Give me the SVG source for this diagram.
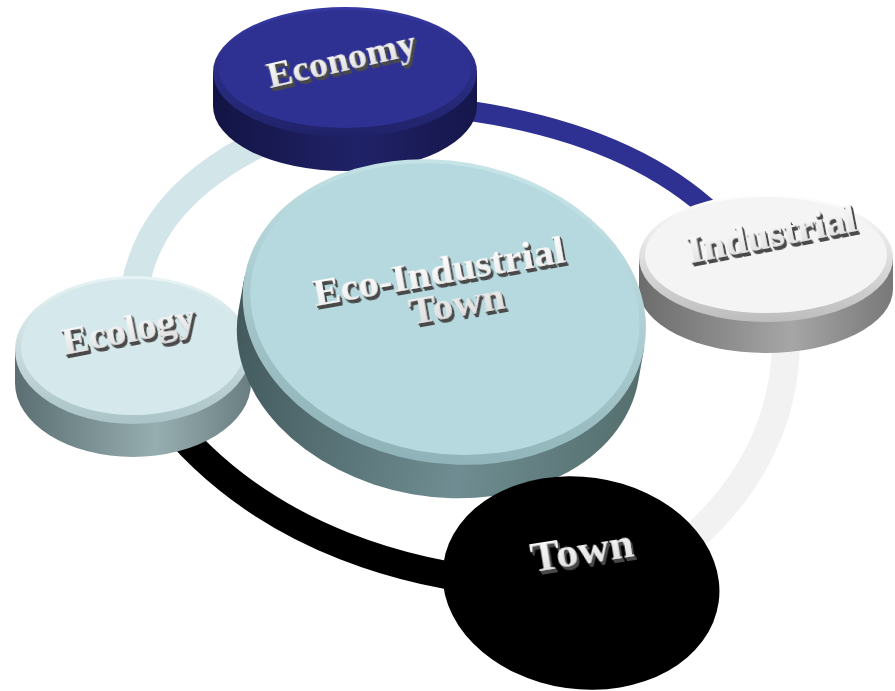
<svg xmlns="http://www.w3.org/2000/svg" width="895" height="691" viewBox="0 0 895 691">
<defs>
<style>
.ring{fill:none;stroke-linecap:butt}
.lbl{font-family:"Liberation Serif","Times New Roman",serif;font-weight:bold;fill:url(#txt);text-anchor:middle;filter:url(#ext)}
</style>
<linearGradient id="txt" x1="0" y1="0" x2="0" y2="1"><stop offset="0" stop-color="#ffffff"/><stop offset="1" stop-color="#dcdcdc"/></linearGradient>
<filter id="ext" x="-10%" y="-30%" width="130%" height="170%">
<feOffset in="SourceAlpha" dx="0.6" dy="1.2" result="o1"/>
<feOffset in="SourceAlpha" dx="1.2" dy="2.4" result="o2"/>
<feOffset in="SourceAlpha" dx="1.8" dy="3.6" result="o3"/>
<feOffset in="SourceAlpha" dx="2.4" dy="4.6" result="o4"/>
<feMerge result="m"><feMergeNode in="o1"/><feMergeNode in="o2"/><feMergeNode in="o3"/><feMergeNode in="o4"/></feMerge>
<feFlood flood-color="#4a4a4a"/>
<feComposite in2="m" operator="in" result="sh"/>
<feMerge><feMergeNode in="sh"/><feMergeNode in="SourceGraphic"/></feMerge>
</filter>
<linearGradient id="econBev" x1="0" y1="0" x2="0" y2="1"><stop offset="0" stop-color="#3639a2"/><stop offset="1" stop-color="#202268"/></linearGradient>
<linearGradient id="econSide" x1="0" y1="0" x2="1" y2="0"><stop offset="0" stop-color="#131444"/><stop offset="0.55" stop-color="#202268"/><stop offset="1" stop-color="#15164a"/></linearGradient>
<linearGradient id="cenBev" x1="0" y1="0" x2="0" y2="1"><stop offset="0" stop-color="#c6e4e8"/><stop offset="1" stop-color="#8fb3b8"/></linearGradient>
<linearGradient id="cenSide" x1="0" y1="0" x2="1" y2="0"><stop offset="0" stop-color="#435a5d"/><stop offset="0.6" stop-color="#6f8d92"/><stop offset="1" stop-color="#56706f"/></linearGradient>
<linearGradient id="ecoBev" x1="0" y1="0" x2="0" y2="1"><stop offset="0" stop-color="#e8f4f6"/><stop offset="1" stop-color="#aac3c6"/></linearGradient>
<linearGradient id="ecoSide" x1="0" y1="0" x2="1" y2="0"><stop offset="0" stop-color="#5b6f72"/><stop offset="0.6" stop-color="#97aeb1"/><stop offset="1" stop-color="#6a7e81"/></linearGradient>
<linearGradient id="indBev" x1="0" y1="0" x2="0" y2="1"><stop offset="0" stop-color="#ffffff"/><stop offset="1" stop-color="#bdbdbd"/></linearGradient>
<linearGradient id="indSide" x1="0" y1="0" x2="1" y2="0"><stop offset="0" stop-color="#6c6c6c"/><stop offset="0.6" stop-color="#a6a6a6"/><stop offset="1" stop-color="#787878"/></linearGradient>
</defs>
<rect width="895" height="691" fill="#ffffff"/>

<g id="connectors">
<path class="ring" d="M 135 360 C 118 250, 170 170, 320 118" stroke="#d2e6ea" stroke-width="28"/>
<path class="ring" d="M 430 106 Q 620 125 715 215" stroke="#2e3192" stroke-width="20"/>
<path class="ring" d="M 780 280 C 800 380, 770 470, 690 540" stroke="#f2f2f2" stroke-width="28"/>
<path class="ring" d="M 560 585 C 420 585, 260 540, 160 410" stroke="#000000" stroke-width="28"/>
</g>

<g id="node-economy">
<path d="M 213 72 L 213 106 A 132 65 0 0 0 477 106 L 477 72 Z" fill="url(#econSide)"/>
<ellipse cx="345" cy="72" rx="132" ry="65" fill="url(#econBev)"/>
<ellipse cx="345" cy="69" rx="126" ry="59" fill="#2e3192"/>
<text class="lbl" font-size="38" transform="translate(344,71) rotate(-13) scale(1,0.95)">Economy</text>
</g>

<g id="node-industrial">
<path d="M 639 258 L 639 289 A 127 64 0 0 0 893 289 L 893 258 Z" fill="url(#indSide)"/>
<ellipse cx="766" cy="258" rx="127" ry="64" fill="url(#indBev)"/>
<ellipse cx="766" cy="255" rx="121" ry="58" fill="#f4f4f4"/>
<text class="lbl" font-size="40" transform="translate(774,247) rotate(-11) scale(1,0.95)">Industrial</text>
</g>

<g id="node-ecology">
<path d="M 15 350 L 15 383 A 118 74 0 0 0 251 383 L 251 350 Z" fill="url(#ecoSide)"/>
<ellipse cx="133" cy="350" rx="118" ry="74" fill="url(#ecoBev)"/>
<ellipse cx="133" cy="347" rx="112" ry="68" fill="#d5e9ec"/>
<text class="lbl" font-size="40" transform="translate(131,342) rotate(-11) scale(1,0.95)">Ecology</text>
</g>

<g id="node-center">
<g transform="rotate(10 444 314)">
<path d="M 241 312 L 241 346 A 203 151 0 0 0 647 346 L 647 312 Z" fill="url(#cenSide)"/>
<ellipse cx="444" cy="312" rx="203" ry="151" fill="url(#cenBev)"/>
<ellipse cx="444" cy="309" rx="196" ry="144" fill="#b5d9de"/>
</g>
<text class="lbl" font-size="41" transform="translate(441,284) rotate(-10) scale(1,0.95)">Eco-Industrial<tspan x="12" dy="37">Town</tspan></text>
</g>

<g id="node-town">
<ellipse cx="581" cy="583" rx="139" ry="106" fill="#000000" transform="rotate(8 581 583)"/>
<text class="lbl" font-size="44" transform="translate(584,564) rotate(-9) scale(1,0.95)">Town</text>
</g>
</svg>
